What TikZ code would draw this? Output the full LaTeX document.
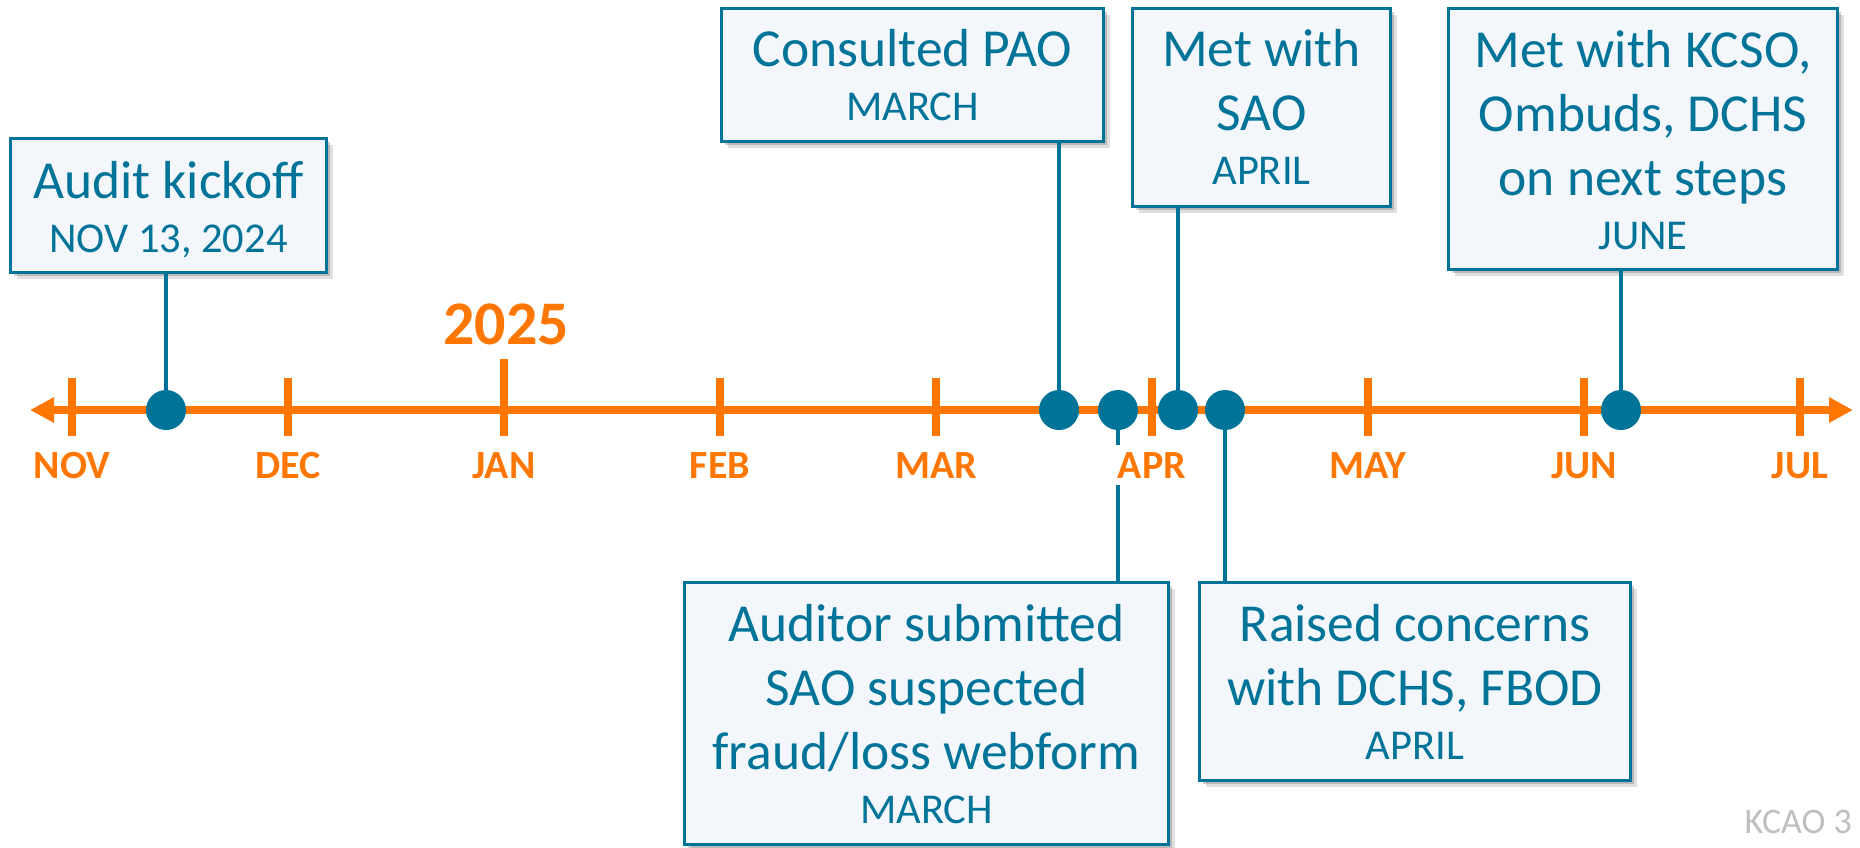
\documentclass[tikz,border=0pt]{standalone}
\usepackage{fontspec}
\setmainfont{Carlito}
\usetikzlibrary{arrows.meta,shadows,calc}
\definecolor{kteal}{RGB}{0,115,152}
\definecolor{korange}{RGB}{255,118,0}
\definecolor{kfill}{RGB}{243,247,252}
\definecolor{kgray}{RGB}{191,191,191}
\begin{document}
\begin{tikzpicture}[x=1pt,y=-1pt,
  evbox/.style={draw=kteal, line width=3.5pt, fill=kfill, inner sep=0pt,
    drop shadow={shadow xshift=6pt, shadow yshift=-6pt, opacity=0.12, fill=black},
    drop shadow={shadow xshift=3.5pt, shadow yshift=-3.5pt, opacity=0.18, fill=black}},
  evtext/.style={text=kteal, align=center, inner sep=0pt, anchor=north,
    font=\fontsize{53.5}{64}\selectfont},
  conn/.style={draw=kteal, line width=3.5pt},
  dot/.style={circle, fill=kteal, inner sep=0pt, minimum size=40pt},
  tl/.style={draw=korange, line width=7.5pt},
  tickmark/.style={draw=korange, line width=7.5pt},
  mlabel/.style={text=korange, font=\fontsize{40}{48}\selectfont\bfseries, anchor=base,
    fill=white, inner sep=7pt},
]
\newcommand{\sm}[1]{{\fontsize{42.5}{50}\selectfont #1}}
\useasboundingbox (0,0) rectangle (1860,847);

% timeline
\coordinate (L) at (30,410);
\coordinate (R) at (1853,410);
\draw[tl, {Triangle[length=24pt,width=24pt]}-{Triangle[length=24pt,width=24pt]}] (L) -- (R);

% ticks
\foreach \i in {0,...,8} {
  \coordinate (m\i) at ({72+216*\i},410);
}
\foreach \i in {0,1,3,4,5,6,7,8} {
  \draw[tickmark] ($(m\i)+(0,-32)$) -- ($(m\i)+(0,26)$);
}
\draw[tickmark] ($(m2)+(0,-51)$) -- ($(m2)+(0,26)$);

% year
\node[text=korange, font=\fontsize{62}{70}\selectfont\bfseries, inner sep=0pt] (year) at (506,324) {2025};

% boxes
\node[evbox, minimum width=316pt, minimum height=134pt] (b1) at (168.5,205.5) {};
\node[evbox, minimum width=382pt, minimum height=133pt] (b2) at (912.5,75) {};
\node[evbox, minimum width=258pt, minimum height=198pt] (b3) at (1261.5,107.5) {};
\node[evbox, minimum width=389pt, minimum height=261pt] (b4) at (1643,139) {};
\node[evbox, minimum width=484pt, minimum height=262pt] (b5) at (926.5,713.5) {};
\node[evbox, minimum width=431pt, minimum height=198pt] (b6) at (1415,681.5) {};

% box texts (first baseline - 45)
\node[evtext] (t1) at (168.5,153) {\rule{0pt}{45pt}Audit kickoff\\[-10pt]\sm{NOV 13, 2024}};
\node[evtext] (t2) at (912.5,21) {\rule{0pt}{45pt}Consulted PAO\\[-10pt]\sm{MARCH}};
\node[evtext] (t3) at (1261.5,21) {\rule{0pt}{45pt}Met with\\SAO\\[-10pt]\sm{APRIL}};
\node[evtext] (t4) at (1643,22) {\rule{0pt}{45pt}Met with KCSO,\\Ombuds, DCHS\\on next steps\\[-10pt]\sm{JUNE}};
\node[evtext] (t5) at (926.5,596) {\rule{0pt}{45pt}Auditor submitted\\SAO suspected\\fraud/loss webform\\[-10pt]\sm{MARCH}};
\node[evtext] (t6) at (1415,596) {\rule{0pt}{45pt}Raised concerns\\with DCHS, FBOD\\[-10pt]\sm{APRIL}};

% event points
\coordinate (p1) at (166,410);
\coordinate (p2) at (1059,410);
\coordinate (p3) at (1118,410);
\coordinate (p4) at (1178,410);
\coordinate (p5) at (1225,410);
\coordinate (p6) at (1621,410);

% connectors
\draw[conn] (b1.south -| p1) -- (p1);
\draw[conn] (b2.south -| p2) -- (p2);
\draw[conn] (b5.north -| p3) -- (p3);
\draw[conn] (b3.south -| p4) -- (p4);
\draw[conn] (b6.north -| p5) -- (p5);
\draw[conn] (b4.south -| p6) -- (p6);

% dots
\foreach \i in {1,...,6} { \node[dot] (d\i) at (p\i) {}; }

% month labels
\foreach \i/\m in {0/NOV,1/DEC,2/JAN,3/FEB,4/MAR,5/APR,6/MAY,7/JUN,8/JUL} {
  \node[mlabel] (lab\i) at ({72+216*\i},478) {\m};
}

% page number
\node[text=kgray, font=\fontsize{36}{42}\selectfont, anchor=base east, inner sep=0pt] (pg) at (1852,833) {KCAO 3};
\end{tikzpicture}
\end{document}
